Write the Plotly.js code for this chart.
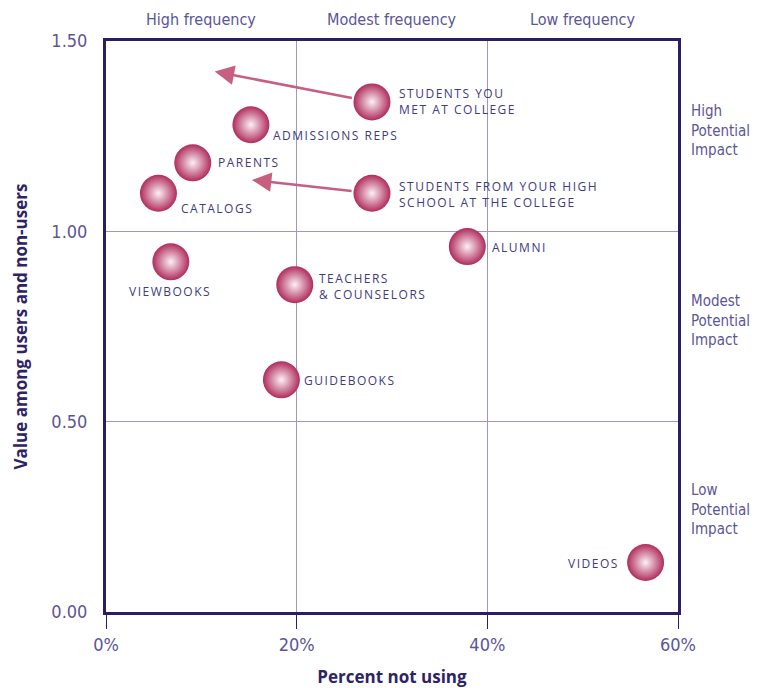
<!DOCTYPE html>
<html>
<head>
<meta charset="utf-8">
<script src="https://cdn.plot.ly/plotly-3.0.1.min.js"></script>
<style>
  html, body { margin: 0; padding: 0; background: #fff; }
  #chart { width: 762px; height: 688px; }
  /* tracked capitals for the point labels */
  text.annotation-text[style*="Open Sans"] { letter-spacing: 1.5px; }
</style>
</head>
<body>
<div id="chart"></div>
<script>
// Information sources: share of students not using each, and its value rating
const sources = [
  "STUDENTS YOU<br>MET AT COLLEGE",
  "ADMISSIONS REPS",
  "PARENTS",
  "CATALOGS",
  "STUDENTS FROM YOUR HIGH<br>SCHOOL AT THE COLLEGE",
  "ALUMNI",
  "VIEWBOOKS",
  "TEACHERS<br>& COUNSELORS",
  "GUIDEBOOKS",
  "VIDEOS"
];
const percentNotUsing = [27.9, 15.2, 9.1, 5.5, 27.9, 37.9, 6.8, 19.8, 18.4, 56.6];
const valueRating     = [1.34, 1.28, 1.18, 1.10, 1.10, 0.96, 0.92, 0.86, 0.61, 0.13];

// Arrows showing where two peer sources would move (target points)
const arrowFrom   = [0, 4];            // index into sources
const arrowToX    = [11.4, 15.3];
const arrowToY    = [1.42, 1.135];

const freqBands   = ["High frequency", "Modest frequency", "Low frequency"];
const freqCenters = [10, 30, 50];
const impactBands = ["High<br>Potential<br>Impact", "Modest<br>Potential<br>Impact", "Low<br>Potential<br>Impact"];
const impactCenters = [1.265, 0.765, 0.27];

const xTicks = [0, 20, 40, 60];
const yTicks = [0, 0.5, 1.0, 1.5];

// label placement around each bubble (pixels)
const labelPlace = {
  "STUDENTS YOU<br>MET AT COLLEGE":                   {dx: 25, dy: 0,   anchor: "left"},
  "ADMISSIONS REPS":                                  {dx: 20, dy: -11, anchor: "left"},
  "PARENTS":                                          {dx: 23, dy: 0,   anchor: "left"},
  "CATALOGS":                                         {dx: 21, dy: -15, anchor: "left"},
  "STUDENTS FROM YOUR HIGH<br>SCHOOL AT THE COLLEGE":  {dx: 25, dy: -1,  anchor: "left"},
  "ALUMNI":                                           {dx: 23, dy: -1,  anchor: "left"},
  "VIEWBOOKS":                                        {dx: -1, dy: -30, anchor: "center"},
  "TEACHERS<br>& COUNSELORS":                         {dx: 22, dy: -2,  anchor: "left"},
  "GUIDEBOOKS":                                       {dx: 21, dy: -1,  anchor: "left"},
  "VIDEOS":                                           {dx: -25, dy: -1, anchor: "right"}
};

const labelColor = "#403b7e";
const lightFont = "Liberation Sans Narrow, DejaVu Sans Condensed, Roboto, sans-serif";

const trace = {
  type: "scatter",
  mode: "markers",
  x: percentNotUsing,
  y: valueRating,
  hoverinfo: "skip",
  marker: {
    size: 37,
    color: "#b02c5b",
    gradient: {type: "radial", color: "#fbf0f4"},
    line: {width: 0}
  }
};

const annotations = [];

// arrows drawn first so bubbles' labels sit above
arrowFrom.forEach((i, k) => {
  annotations.push({
    x: arrowToX[k], y: arrowToY[k], xref: "x", yref: "y",
    ax: percentNotUsing[i], ay: valueRating[i], axref: "x", ayref: "y",
    text: "", showarrow: true,
    arrowhead: 2, arrowsize: 1.5, arrowwidth: 2.6,
    arrowcolor: "#c65f80", startstandoff: 19
  });
});

sources.forEach((name, i) => {
  const p = labelPlace[name];
  annotations.push({
    x: percentNotUsing[i], y: valueRating[i], xref: "x", yref: "y",
    text: name, showarrow: false,
    xanchor: p.anchor, yanchor: "middle", align: p.anchor === "center" ? "center" : p.anchor,
    xshift: p.dx, yshift: p.dy,
    font: {family: "Open Sans", size: 12, color: labelColor}
  });
});

freqBands.forEach((t, i) => {
  annotations.push({
    x: freqCenters[i], y: 1.037, xref: "x", yref: "paper",
    text: t, showarrow: false, xanchor: "center", yanchor: "middle",
    font: {family: lightFont, size: 16, color: "#5a5698"}
  });
});

impactBands.forEach((t, i) => {
  annotations.push({
    x: 1.02, y: impactCenters[i], xref: "paper", yref: "y",
    text: t, showarrow: false, xanchor: "left", yanchor: "middle", align: "left",
    font: {family: lightFont, size: 15, color: "#5a5698"}
  });
});

const frameColor = "#2b1e66";
const gridColor = "#9d97c9";

const layout = {
  width: 762, height: 688,
  margin: {l: 106, r: 84, t: 41, b: 76, pad: 0},
  paper_bgcolor: "#ffffff",
  plot_bgcolor: "#ffffff",
  showlegend: false,
  xaxis: {
    range: [0, 60],
    tickvals: xTicks,
    ticktext: xTicks.map(v => v + "%"),
    ticks: "outside", ticklen: 14, tickwidth: 1, tickcolor: frameColor,
    showline: true, mirror: true, linecolor: frameColor, linewidth: 3,
    showgrid: true, gridcolor: gridColor, gridwidth: 1,
    zeroline: false, fixedrange: true,
    tickfont: {family: lightFont, size: 18, color: "#5a5698"},
    title: {
      text: "Percent not using",
      font: {family: "Open Sans, DejaVu Sans, sans-serif", size: 17, color: "#2d2466", weight: "bold"},
      standoff: 18
    }
  },
  yaxis: {
    range: [0, 1.5],
    tickvals: yTicks,
    tickformat: ".2f",
    ticks: "", ticklabelstandoff: 12,
    showline: true, mirror: true, linecolor: frameColor, linewidth: 3,
    showgrid: true, gridcolor: gridColor, gridwidth: 1,
    zeroline: false, fixedrange: true,
    tickfont: {family: lightFont, size: 18, color: "#5a5698"},
    title: {
      text: "Value among users and non-users",
      font: {family: "Open Sans, DejaVu Sans, sans-serif", size: 17, color: "#2d2466", weight: "bold"},
      standoff: 20
    }
  },
  annotations: annotations
};

Plotly.newPlot("chart", [trace], layout, {displayModeBar: false, staticPlot: true});
</script>
</body>
</html>
